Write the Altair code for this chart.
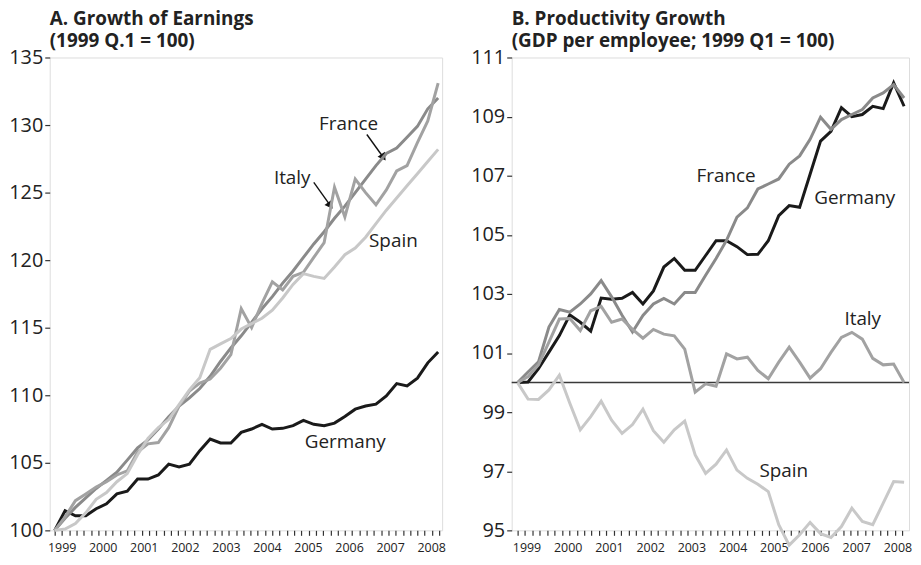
import altair as alt
import numpy as np
import pandas as pd

# ---------------- data ----------------
quarters = [1999 + 0.25 * i for i in range(38)]  # 1999Q1 .. 2008Q2

# Panel A: earnings (1999 Q1 = 100)
earn_germany = [100, 101.45, 101.08, 101.08, 101.6, 101.96, 102.7, 102.9, 103.8, 103.8,
                104.1, 104.9, 104.7, 104.9, 105.9, 106.76, 106.47, 106.47, 107.25, 107.5,
                107.85, 107.5, 107.55, 107.75, 108.14, 107.85, 107.75, 107.94, 108.43, 108.97,
                109.2, 109.34, 109.95, 110.86, 110.69, 111.27, 112.4, 113.2]
earn_france = [100, 100.9, 101.7, 102.4, 103.1, 103.7, 104.3, 105.2, 106.1, 106.7,
               107.5, 108.4, 109.2, 109.8, 110.5, 111.4, 112.5, 113.5, 114.4, 115.4,
               116.4, 117.3, 118.3, 119.2, 120.2, 121.2, 122.1, 123.1, 124.0, 125.0,
               126.0, 127.0, 127.9, 128.3, 129.1, 129.9, 131.2, 132.0]
earn_italy = [100, 101.0, 102.2, 102.7, 103.2, 103.6, 104.1, 104.4, 105.8, 106.4,
              106.5, 107.6, 109.2, 110.3, 110.9, 111.2, 112.0, 113.0, 116.4, 115.0,
              116.8, 118.4, 117.8, 118.8, 119.1, 120.2, 121.3, 125.4, 123.2, 126.0,
              125.0, 124.1, 125.2, 126.6, 127.0, 128.7, 130.3, 133.1]
earn_spain = [100, 100.1, 100.5, 101.3, 102.3, 102.8, 103.6, 104.2, 105.6, 106.8,
              107.6, 108.2, 109.3, 110.4, 111.3, 113.4, 113.8, 114.2, 114.9, 115.3,
              115.7, 116.3, 117.2, 118.2, 119.0, 118.8, 118.65, 119.5, 120.4, 120.9,
              121.7, 122.7, 123.7, 124.6, 125.5, 126.4, 127.3, 128.2]

# Panel B: productivity (GDP per employee; 1999 Q1 = 100)
prod_germany = [100, 100.02, 100.47, 101.03, 101.59, 102.29, 102.04, 101.74, 102.86, 102.82,
                102.85, 103.05, 102.66, 103.1, 103.91, 104.2, 103.8, 103.8, 104.3, 104.8,
                104.8, 104.6, 104.33, 104.34, 104.8, 105.65, 105.99, 105.93, 107.05, 108.17,
                108.5, 109.3, 109.0, 109.07, 109.35, 109.27, 110.14, 109.35]
prod_france = [100, 100.36, 100.7, 101.88, 102.47, 102.38, 102.66, 103.0, 103.45, 102.9,
               102.28, 101.71, 102.27, 102.66, 102.85, 102.66, 103.05, 103.05, 103.63, 104.2,
               104.81, 105.6, 105.91, 106.55, 106.72, 106.89, 107.39, 107.67, 108.23, 108.98,
               108.57, 108.9, 109.07, 109.24, 109.63, 109.8, 110.08, 109.63]
prod_italy = [100, 100.2, 100.6, 101.37, 102.15, 102.17, 101.76, 102.43, 102.58, 102.04,
              102.15, 101.8, 101.5, 101.8, 101.64, 101.58, 101.13, 99.68, 99.96, 99.88,
              100.97, 100.8, 100.86, 100.41, 100.13, 100.69, 101.2, 100.69, 100.15, 100.47,
              101.02, 101.53, 101.7, 101.47, 100.82, 100.6, 100.63, 100.0]
prod_spain = [100, 99.44, 99.43, 99.75, 100.25, 99.3, 98.4, 98.85, 99.37, 98.73,
              98.28, 98.58, 99.1, 98.37, 97.98, 98.4, 98.7, 97.55, 96.93, 97.24,
              97.72, 97.04, 96.76, 96.56, 96.31, 95.19, 94.5, 94.85, 95.27, 94.89,
              94.76, 95.13, 95.75, 95.3, 95.19, 95.92, 96.65, 96.63]

countries = ["Germany", "France", "Italy", "Spain"]

# series name labels (text annotations)
a_label_text = ["France", "Italy", "Spain", "Germany"]
a_label_t = [2006.09, 2004.73, 2007.17, 2006.01]
a_label_v = [130.1, 126.1, 121.4, 106.57]
# arrows in panel A (start -> tip)
a_arrow_t1 = [2006.53, 2005.25]
a_arrow_v1 = [129.3, 125.76]
a_arrow_t2 = [2006.93, 2005.65]
a_arrow_v2 = [127.6, 124.04]

b_label_text = ["France", "Germany", "Italy", "Spain"]
b_label_t = [2003.99, 2007.07, 2007.26, 2005.37]
b_label_v = [107.0, 106.26, 102.15, 97.0]

FONT = "Open Sans"
TXT = "#222222"


def long_df(series):
    rows = []
    for name, vals in zip(countries, series):
        for t, v in zip(quarters, vals):
            rows.append({"t": t, "v": v, "country": name})
    return pd.DataFrame(rows)


def panel(series, colors, xdom, label_pos, tick_step, ydom, yvals, title, labels, width, extra=None):
    df = long_df(series)
    xscale = alt.Scale(domain=xdom, nice=False, zero=False)
    yscale = alt.Scale(domain=ydom, nice=False, zero=False)
    lines = alt.Chart(df).mark_line(strokeWidth=3, clip=False).encode(
        x=alt.X("t:Q", scale=xscale, title=None,
                axis=alt.Axis(values=list(label_pos), labelExpr="floor(datum.value) + ''",
                              ticks=False, domain=False, grid=False, labelFont=FONT,
                              labelFontSize=12.5, labelColor=TXT, labelPadding=11.5,
                              labelFlush=False)),
        y=alt.Y("v:Q", scale=yscale, title=None,
                axis=alt.Axis(values=yvals, grid=False, domain=False, tickSize=5,
                              tickColor="#333", tickWidth=1.2, labelFont=FONT,
                              labelFontSize=20, labelColor=TXT, labelPadding=2)),
        color=alt.Color("country:N", scale=alt.Scale(domain=countries, range=colors), legend=None),
        order=alt.Order("t:Q"),
    )
    ticks_vals = [round(x, 4) for x in np.arange(1999.0, xdom[1] + 1e-6, tick_step)]
    tick_layer = alt.Chart(df).mark_line(opacity=0).encode(
        x=alt.X("t:Q", scale=xscale, title=None,
                axis=alt.Axis(values=ticks_vals, labels=False, ticks=True, tickSize=5,
                              tickColor="#333", tickWidth=1.2, domain=False, grid=False,
                              orient="bottom")),
        y=alt.Y("v:Q", scale=yscale, title=None),
    )
    ldf = pd.DataFrame({"label": labels[0], "t": labels[1], "v": labels[2]})
    text = alt.Chart(ldf).mark_text(font=FONT, fontSize=19, color=TXT, align="center",
                                    baseline="middle").encode(
        x=alt.X("t:Q", scale=xscale, axis=None),
        y=alt.Y("v:Q", scale=yscale, title=None),
        text="label:N",
    )
    layers = [lines, tick_layer, text]
    if extra is not None:
        layers = extra(xscale, yscale) + layers
    ch = alt.layer(*layers).resolve_axis(x="independent").properties(
        width=width,
        height=476,
        title=alt.TitleParams(text=title, anchor="start", frame="group", font=FONT,
                              fontSize=19, fontWeight="bold", color=TXT, lineHeight=21.5,
                              offset=-3),
    )
    return ch


def a_extra(xscale, yscale):
    adf = pd.DataFrame({"t1": a_arrow_t1, "v1": a_arrow_v1, "t2": a_arrow_t2, "v2": a_arrow_v2})
    shaft = alt.Chart(adf).mark_rule(color="#111", strokeWidth=1.4).encode(
        x=alt.X("t1:Q", scale=xscale, axis=None), y=alt.Y("v1:Q", scale=yscale, title=None),
        x2="t2:Q", y2="v2:Q")
    head = alt.Chart(adf).mark_point(shape="triangle-up", filled=True, size=80, color="#111",
                                     opacity=1, angle=145).encode(
        x=alt.X("t2:Q", scale=xscale, axis=None), y=alt.Y("v2:Q", scale=yscale, title=None))
    return [shaft, head]


def b_extra(xscale, yscale):
    rule = alt.Chart(pd.DataFrame({"v": [100]})).mark_rule(color="#3a3a3a", strokeWidth=1.5).encode(
        y=alt.Y("v:Q", scale=yscale, title=None))
    return [rule]


left = panel(
    [earn_germany, earn_france, earn_italy, earn_spain],
    ["#1a1a1a", "#8a8a8a", "#a2a2a2", "#c8c8c8"],
    [1998.88, 2008.346], np.linspace(1999.168, 2008.082, 10), 0.175,
    [100, 135], list(range(100, 136, 5)),
    ["A. Growth of Earnings", "(1999 Q.1 = 100)"],
    (a_label_text, a_label_t, a_label_v), 395, extra=a_extra,
)
right = panel(
    [prod_germany, prod_france, prod_italy, prod_spain],
    ["#1a1a1a", "#9c9c9c", "#8a8a8a", "#c8c8c8"],
    [1998.858, 2008.368], np.linspace(1999.213, 2008.091, 10), 0.177,
    [95, 111], list(range(95, 112, 2)),
    ["B. Productivity Growth", "(GDP per employee; 1999 Q1 = 100)"],
    (b_label_text, b_label_t, b_label_v), 400, extra=b_extra,
)

chart = alt.hconcat(left, right, spacing=24).properties(padding=0).configure_view(
    stroke="#333333", strokeWidth=1.5
).configure(background="white")

chart.save("out.html", embed_options={"renderer": "svg", "actions": False})
